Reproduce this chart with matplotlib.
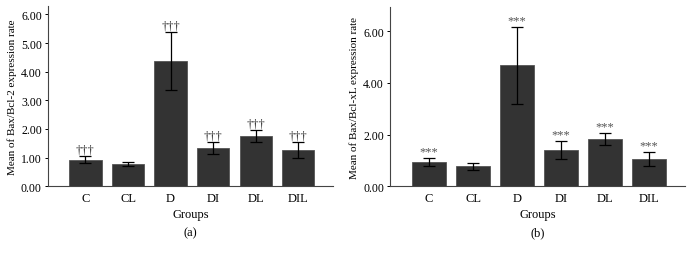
import numpy as np
import matplotlib
matplotlib.use("Agg")
import matplotlib.pyplot as plt

plt.rcParams['font.family'] = ['Liberation Serif', 'DejaVu Serif']

groups = ['C', 'CL', 'D', 'DI', 'DL', 'DIL']

# panel (a) Bax/Bcl-2
mean_a = [0.92, 0.77, 4.36, 1.33, 1.75, 1.26]
err_a = [0.12, 0.07, 1.01, 0.20, 0.21, 0.28]
sig_a = ['†††', '', '†††', '†††', '†††', '†††']

# panel (b) Bax/Bcl-xL
mean_b = [0.95, 0.78, 4.68, 1.41, 1.82, 1.07]
err_b = [0.16, 0.14, 1.50, 0.36, 0.23, 0.27]
sig_b = ['***', '', '***', '***', '***', '***']

bar_col = '#333333'

fig = plt.figure(figsize=(6.92, 2.55), dpi=100)
ax1 = fig.add_axes([0.0694, 0.2655, 0.412, 0.708])
ax2 = fig.add_axes([0.564, 0.2655, 0.426, 0.702])


def panel(ax, mean, err, sig, ylab, ymax, yticks, letter, sigsize, sigcol):
    x = np.arange(len(groups))
    ax.bar(x, mean, width=0.76, color=bar_col, edgecolor='#555555', linewidth=0.6, zorder=2)
    ax.errorbar(x, mean, yerr=err, fmt='none', ecolor='black', elinewidth=0.9,
                capsize=4.5, capthick=0.9, zorder=3)
    for xi, m, e, s in zip(x, mean, err, sig):
        if s:
            ax.text(xi, m + e + ymax * 0.003, s, ha='center', va='bottom',
                    fontsize=sigsize, color=sigcol)
    ax.set_xlim(-0.88, 5.82)
    ax.set_ylim(0, ymax)
    ax.set_yticks(yticks)
    ax.set_yticklabels(['%.2f' % v for v in yticks])
    ax.set_xticks(x)
    ax.set_xticklabels(groups)
    ax.tick_params(axis='x', length=0, labelsize=9, pad=4)
    ax.tick_params(axis='y', length=2.5, width=0.7, labelsize=8.5, pad=2)
    for sp in ['top', 'right']:
        ax.spines[sp].set_visible(False)
    for sp in ['left', 'bottom']:
        ax.spines[sp].set_linewidth(0.8)
        ax.spines[sp].set_color('#444444')
    ax.set_xlabel('Groups', fontsize=9, labelpad=3)
    ax.set_ylabel(ylab, fontsize=8, labelpad=3)
    ax.text(0.5, -0.255, letter, transform=ax.transAxes, ha='center', va='center', fontsize=9)


panel(ax1, mean_a, err_a, sig_a, 'Mean of Bax/Bcl-2 expression rate', 6.3,
      [0, 1, 2, 3, 4, 5, 6], '(a)', 9, '#333333')
panel(ax2, mean_b, err_b, sig_b, 'Mean of Bax/Bcl-xL expression rate', 6.93,
      [0, 2, 4, 6], '(b)', 9, '#555555')

fig.savefig('out.png', dpi=100)
